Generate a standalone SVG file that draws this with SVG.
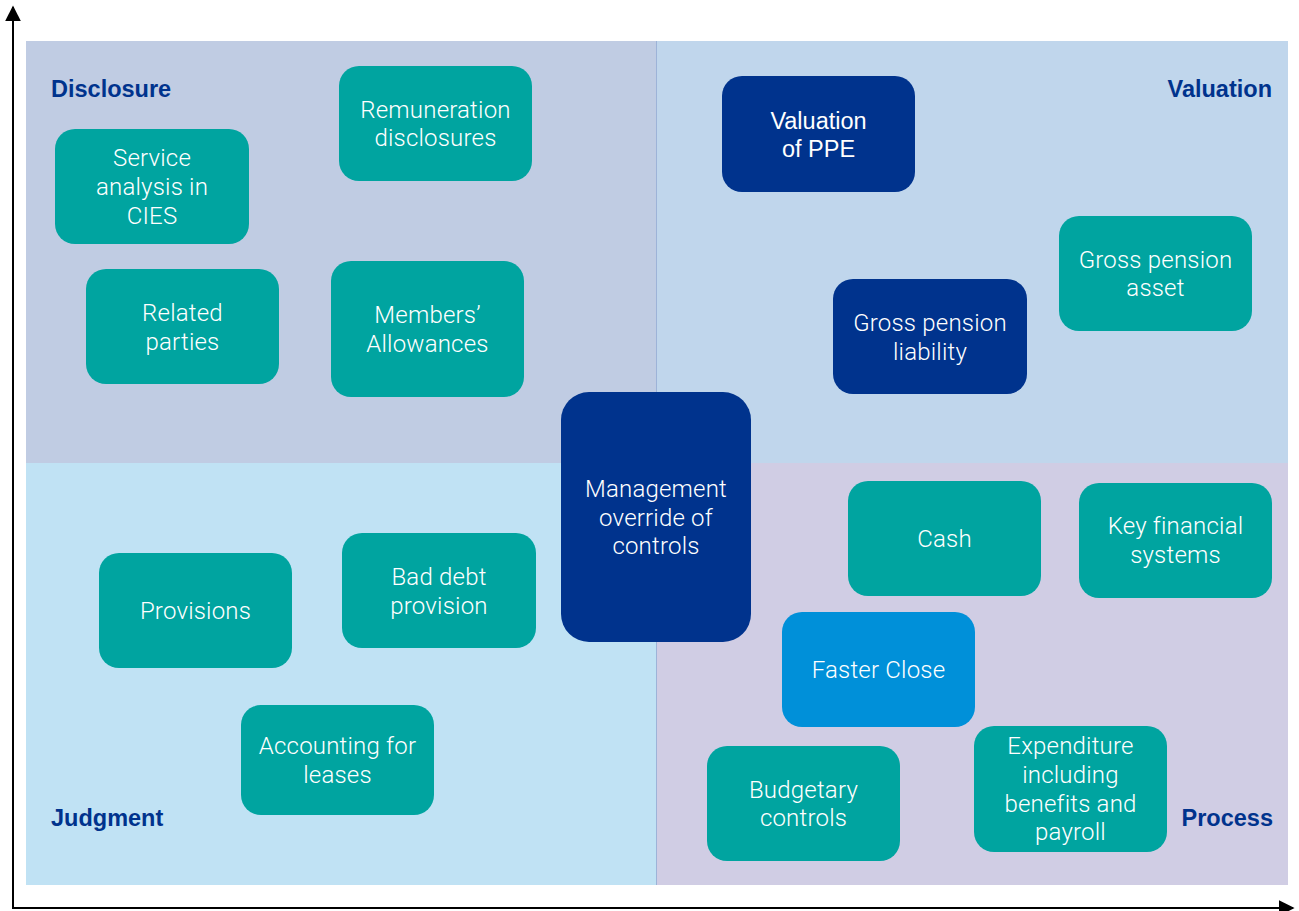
<svg xmlns="http://www.w3.org/2000/svg" width="1299" height="911" viewBox="0 0 1299 911">
<style>
.q-tl{fill:#c0cce3}.q-tr{fill:#c0d6ec}.q-bl{fill:#c0e2f4}.q-br{fill:#d0cde4}
.teal{fill:#00a4a0}.navy{fill:#00338d}.sky{fill:#0090d9}
.t{font-family:Roboto,"Liberation Sans",Arial,sans-serif;font-weight:300;font-size:24px;letter-spacing:0.2px;fill:#ffffff;text-anchor:middle}
.ta{font-family:"Liberation Sans",Arial,sans-serif;font-size:23.5px;fill:#ffffff;text-anchor:middle}
.ql{font-family:"Liberation Sans",Arial,sans-serif;font-weight:bold;font-size:23.5px;fill:#00338d}
.axis{stroke:#000000;stroke-width:2;fill:none}
</style>
<defs>
<marker id="arr" viewBox="0 0 10 10" refX="9" refY="5" markerWidth="8" markerHeight="8" orient="auto" markerUnits="strokeWidth">
<path d="M0,0 L10,5 L0,10 z" fill="#000000"/>
</marker>
</defs>
<rect width="1299" height="911" fill="#ffffff"/>
<g id="quadrants">
<rect class="q-tl" x="26" y="41" width="630" height="422"/>
<rect class="q-tr" x="656" y="41" width="632" height="422"/>
<rect class="q-bl" x="26" y="463" width="630" height="422"/>
<rect class="q-br" x="656" y="463" width="632" height="422"/>
<line x1="656.5" y1="41" x2="656.5" y2="885" stroke="#9db3d8" stroke-width="1"/>
<text class="ql" x="51" y="97">Disclosure</text>
<text class="ql" x="1272" y="97" text-anchor="end">Valuation</text>
<text class="ql" x="51" y="826">Judgment</text>
<text class="ql" x="1273" y="826" text-anchor="end">Process</text>
</g>
<g id="connectors">
<line class="axis" x1="13" y1="909" x2="13" y2="7" marker-end="url(#arr)"/>
<line class="axis" x1="12" y1="908" x2="1293" y2="908" marker-end="url(#arr)"/>
</g>
<g id="remuneration"><rect class="teal" x="339" y="66" width="193" height="115" rx="20"/><text class="t" x="435.5" y="118">Remuneration</text><text class="t" x="435.5" y="146">disclosures</text></g>
<g id="service-analysis"><rect class="teal" x="55" y="129" width="194" height="115" rx="20"/><text class="t" x="152" y="166">Service</text><text class="t" x="152" y="195">analysis in</text><text class="t" x="152" y="224">CIES</text></g>
<g id="related-parties"><rect class="teal" x="86" y="269" width="193" height="115" rx="20"/><text class="t" x="182.5" y="321">Related</text><text class="t" x="182.5" y="350">parties</text></g>
<g id="members-allowances"><rect class="teal" x="331" y="261" width="193" height="136" rx="20"/><text class="t" x="427.5" y="323">Members’</text><text class="t" x="427.5" y="352">Allowances</text></g>
<g id="valuation-ppe"><rect class="navy" x="722" y="76" width="193" height="116" rx="20"/><text class="ta" x="818.5" y="129">Valuation</text><text class="ta" x="818.5" y="157">of PPE</text></g>
<g id="gross-pension-liability"><rect class="navy" x="833" y="279" width="194" height="115" rx="20"/><text class="t" x="930" y="331">Gross pension</text><text class="t" x="930" y="360">liability</text></g>
<g id="gross-pension-asset"><rect class="teal" x="1059" y="216" width="193" height="115" rx="20"/><text class="t" x="1155.5" y="268">Gross pension</text><text class="t" x="1155.5" y="296">asset</text></g>
<g id="management-override"><rect class="navy" x="561" y="392" width="190" height="250" rx="28"/><text class="t" x="656" y="497">Management</text><text class="t" x="656" y="526">override of</text><text class="t" x="656" y="554">controls</text></g>
<g id="cash"><rect class="teal" x="848" y="481" width="193" height="115" rx="20"/><text class="t" x="944.5" y="547">Cash</text></g>
<g id="key-financial-systems"><rect class="teal" x="1079" y="483" width="193" height="115" rx="20"/><text class="t" x="1175.5" y="534">Key financial</text><text class="t" x="1175.5" y="563">systems</text></g>
<g id="faster-close"><rect class="sky" x="782" y="612" width="193" height="115" rx="20"/><text class="t" x="878.5" y="678">Faster Close</text></g>
<g id="budgetary-controls"><rect class="teal" x="707" y="746" width="193" height="115" rx="20"/><text class="t" x="803.5" y="798">Budgetary</text><text class="t" x="803.5" y="826">controls</text></g>
<g id="expenditure"><rect class="teal" x="974" y="726" width="193" height="126" rx="20"/><text class="t" x="1070.5" y="754">Expenditure</text><text class="t" x="1070.5" y="783">including</text><text class="t" x="1070.5" y="812">benefits and</text><text class="t" x="1070.5" y="840">payroll</text></g>
<g id="provisions"><rect class="teal" x="99" y="553" width="193" height="115" rx="20"/><text class="t" x="195.5" y="619">Provisions</text></g>
<g id="bad-debt"><rect class="teal" x="342" y="533" width="194" height="115" rx="20"/><text class="t" x="439" y="585">Bad debt</text><text class="t" x="439" y="614">provision</text></g>
<g id="accounting-leases"><rect class="teal" x="241" y="705" width="193" height="110" rx="20"/><text class="t" x="337.5" y="754">Accounting for</text><text class="t" x="337.5" y="783">leases</text></g>
</svg>
